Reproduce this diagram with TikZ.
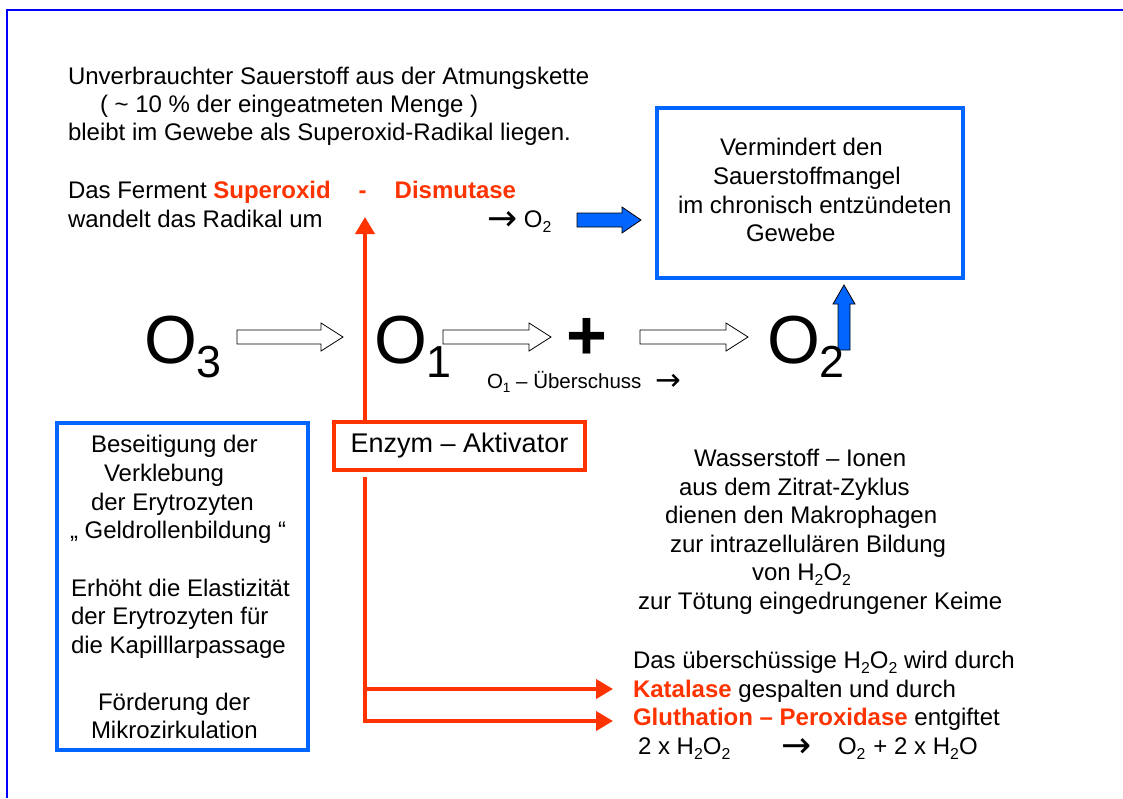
\documentclass[tikz,border=0pt]{standalone}
\usepackage{fontspec}
\setmainfont{Liberation Sans}
\newfontfamily\symfont{DejaVu Sans}
\usetikzlibrary{arrows.meta}
\definecolor{framecol}{HTML}{0000FF}
\definecolor{boxblue}{HTML}{0066FF}
\definecolor{enzred}{HTML}{FF3300}
\newcommand{\tsub}[1]{\raisebox{-0.22em}{\scalebox{0.66}{#1}}}
\newcommand{\rarr}{\raisebox{-0.14em}{\symfont\scalebox{1.5}[1.5]{→}}}
\begin{document}
\begin{tikzpicture}[x=1pt,y=-1pt,
  every node/.style={inner sep=0pt, outer sep=0pt},
  txt/.style={anchor=base west, font=\fontsize{24}{28}\selectfont},
  bigtxt/.style={anchor=base west, font=\fontsize{68}{68}\selectfont},
  smalltxt/.style={anchor=base west, font=\fontsize{20.5}{24}\selectfont},
  bluebox/.style={draw=boxblue, line width=4pt},
  redbox/.style={draw=enzred, line width=4pt},
  redline/.style={draw=enzred, line width=4pt},
  redtip/.style={-{Triangle[length=17pt,width=19pt]}},
  hollow/.style={draw=black, line width=0.8pt, fill=white},
  bluearrow/.style={draw=black, line width=0.8pt, fill=boxblue}
]
\useasboundingbox (0,0) rectangle (1123,798);
% frame
\draw[framecol, line width=2pt] (7,798) -- (7,10) -- (1123,10);

% top-left text
\node[txt] (t1) at (68,84) {Unverbrauchter Sauerstoff aus der Atmungskette};
\node[txt] (t2) at (100,112) {( \textasciitilde{} 10 \% der eingeatmeten Menge )};
\node[txt] (t3) at (68,140) {bleibt im Gewebe als Superoxid-Radikal liegen.};
\node[txt] (t4) at (68,198) {Das Ferment {\color{enzred}\bfseries Superoxid\hspace{28pt}-\hspace{28pt}Dismutase}};
\node[txt] (t5) at (68,227) {wandelt das Radikal um};
\node[txt] (t6) at (487,227) {\rarr\ O\tsub{2}};

% blue right arrow
\draw[bluearrow] (577,213) -- (622,213) -- (622,207) -- (641,220) -- (622,233) -- (622,227) -- (577,227) -- cycle;

% top-right box
\node[bluebox, minimum width=306pt, minimum height=170pt] (vbox) at (810,193) {};
\node[txt] (v1) at (720,155) {Vermindert den};
\node[txt] (v2) at (713,184) {Sauerstoffmangel};
\node[txt] (v3) at (678,213) {im chronisch entzündeten};
\node[txt] (v4) at (746,241) {Gewebe};

% blue up arrow
\draw[bluearrow] (838,350) -- (838,304) -- (833,304) -- (844,285) -- (855,304) -- (850,304) -- (850,350) -- cycle;

% middle row
\node[bigtxt] (o3) at (144,363) {O\tsub{3}};
\node[bigtxt] (o1) at (374,363) {O\tsub{1}};
\node[font=\fontsize{70}{70}\selectfont\bfseries] (plus) at (587,339) {+};
\node[bigtxt] (o2) at (767,363) {O\tsub{2}};
\draw[hollow] (237,330) -- (321,330) -- (321,323) -- (343,337) -- (321,351) -- (321,344) -- (237,344) -- cycle;
\draw[hollow] (443,330) -- (529,330) -- (529,323) -- (551,337) -- (529,351) -- (529,344) -- (443,344) -- cycle;
\draw[hollow] (640,330) -- (726,330) -- (726,323) -- (748,337) -- (726,351) -- (726,344) -- (640,344) -- cycle;
\node[smalltxt] (ueb) at (487,388) {O\tsub{1} – Überschuss\hspace{14pt}\rarr};

% enzyme activator
\node[redbox, minimum width=251pt, minimum height=48pt, font=\fontsize{27}{30}\selectfont] (enz) at (459.5,446) {Enzym – Aktivator};
\coordinate (sodtip) at (365,217);
\coordinate (lowstart) at (365,477);
\coordinate (katip) at (613,689);
\coordinate (glutip) at (613,721);
\draw[redline, redtip] (enz.north -| sodtip) -- (sodtip);
\draw[redline, redtip] (lowstart) -- (lowstart |- glutip) -- (glutip);
\draw[redline, redtip] (lowstart |- katip) -- (katip);

% left box
\node[bluebox, minimum width=251pt, minimum height=327pt] (lbox) at (182.5,586.5) {};
\node[txt] (l1) at (91,452) {Beseitigung der};
\node[txt] (l2) at (104,481) {Verklebung};
\node[txt] (l3) at (91,510) {der Erytrozyten};
\node[txt] (l4) at (70,538) {„ Geldrollenbildung “};
\node[txt] (l5) at (71,596) {Erhöht die Elastizität};
\node[txt] (l6) at (71,624) {der Erytrozyten für};
\node[txt] (l7) at (71,653) {die Kapilllarpassage};
\node[txt] (l8) at (98,710) {Förderung der};
\node[txt] (l9) at (91,738) {Mikrozirkulation};

% right text
\node[txt] (w1) at (694,466) {Wasserstoff – Ionen};
\node[txt] (w2) at (679,495) {aus dem Zitrat-Zyklus};
\node[txt] (w3) at (665,523) {dienen den Makrophagen};
\node[txt] (w4) at (670,552) {zur intrazellulären Bildung};
\node[txt] (w5) at (752,580) {von H\tsub{2}O\tsub{2}};
\node[txt] (w6) at (638,609) {zur Tötung eingedrungener Keime};

% bottom right text
\node[txt] (b1) at (633,668) {Das überschüssige H\tsub{2}O\tsub{2} wird durch};
\node[txt] (b2) at (633,697) {{\color{enzred}\bfseries Katalase} gespalten und durch};
\node[txt] (b3) at (633,725) {{\color{enzred}\bfseries Gluthation – Peroxidase} entgiftet};
\node[txt] (b4) at (638,754) {2 x H\tsub{2}O\tsub{2}};
\node[txt] (b5) at (781,754) {\rarr};
\node[txt] (b6) at (838,754) {O\tsub{2}\hspace{8pt}+ 2 x H\tsub{2}O};
\end{tikzpicture}
\end{document}
